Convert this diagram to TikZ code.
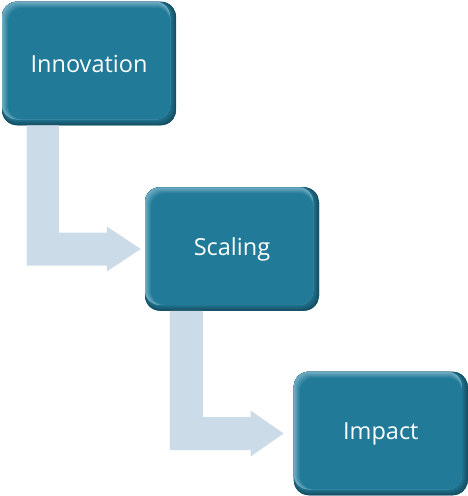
\documentclass[tikz,border=0pt]{standalone}
\usepackage{fontspec}
\setmainfont{Open Sans}
\usetikzlibrary{calc}
\definecolor{tealmain}{HTML}{217A98}
\definecolor{tealdark}{HTML}{164F62}
\definecolor{teallight}{HTML}{72ADC2}
\definecolor{flowblue}{HTML}{CBDCE8}
\tikzset{
  stagebox/.style={
    rectangle, rounded corners=15pt, fill=tealmain,
    minimum width=174pt, minimum height=123.5pt, inner sep=0pt,
    text=white, font=\fontsize{23.5}{28}\selectfont,
    path picture={
      % darker lower and right rim
      \foreach \k in {0,...,6}{
        \pgfmathsetmacro\p{100*\k/6}
        \fill[tealmain!\p!tealdark, rounded corners=15pt]
          (path picture bounding box.north west) rectangle
          ($(path picture bounding box.south east)+(-\k,-\k)$);
      }
      % lighter upper and left rim
      \foreach \k in {0,...,6}{
        \pgfmathsetmacro\p{100*\k/6}
        \fill[tealmain!\p!teallight, rounded corners=14pt]
          ($(path picture bounding box.north west)+(\k,\k)$) rectangle
          ($(path picture bounding box.south east)+(-6,-6)$);
      }
    }
  },
  flow/.style={fill=flowblue}
}
\begin{document}
\begin{tikzpicture}[x=1pt,y=-1pt]
  \useasboundingbox (0,0) rectangle (468,496);

  \node[stagebox] (inn) at (89,63.5) {Innovation};
  \node[stagebox] (sca) at (232,249) {Scaling};
  \node[stagebox] (imp) at (380.8,433.5) {Impact};

  % bent arrow from Innovation to Scaling
  \begin{scope}[on background layer/.try]
  \fill[flow] ($(inn.south west)+(25,0)$) |- ($(sca.west)+(-38,16.5)$)
    -- ++(0,6) -- ($(sca.west)+(-4,0)$) -- ($(sca.west)+(-38,-22.5)$)
    -- ++(0,6) -| ($(inn.south west)+(57,0)$) -- cycle;

  % bent arrow from Scaling to Impact
  \fill[flow] ($(sca.south west)+(25,0)$) |- ($(imp.west)+(-43,16.5)$)
    -- ++(0,6.5) -- ($(imp.west)+(-10,0)$) -- ($(imp.west)+(-43,-23)$)
    -- ++(0,6.5) -| ($(sca.south west)+(58,0)$) -- cycle;
  \end{scope}
\end{tikzpicture}
\end{document}
